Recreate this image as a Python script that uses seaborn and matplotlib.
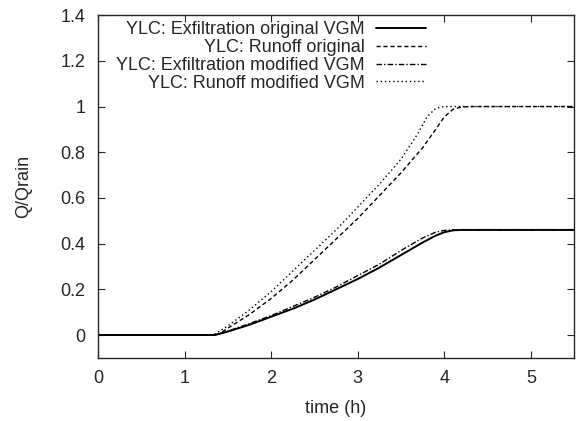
import pandas as pd
import seaborn as sns
import matplotlib.pyplot as plt
from matplotlib.ticker import FuncFormatter

# values
t_exf_orig = [0, 1.35, 1.5, 1.75, 2.0, 2.25, 2.5, 2.75, 3.0, 3.25, 3.5, 3.75, 3.9, 4.0, 4.1, 4.2, 5.5]
q_exf_orig = [0, 0, 0.015, 0.045, 0.08, 0.115, 0.155, 0.2, 0.245, 0.295, 0.35, 0.405, 0.435, 0.45, 0.458, 0.46, 0.46]

t_run_orig = [0, 1.35, 1.4, 1.5, 1.75, 2.0, 2.25, 2.5, 2.75, 3.0, 3.25, 3.5, 3.75, 3.9, 4.0, 4.1, 4.2, 4.3, 5.5]
q_run_orig = [0, 0, 0.005, 0.03, 0.09, 0.16, 0.24, 0.33, 0.42, 0.51, 0.61, 0.71, 0.82, 0.9, 0.955, 0.988, 0.998, 1.0, 1.0]

t_exf_mod = [0, 1.35, 1.5, 1.75, 2.0, 2.25, 2.5, 2.75, 3.0, 3.25, 3.5, 3.75, 3.9, 4.0, 4.1, 5.5]
q_exf_mod = [0, 0, 0.017, 0.05, 0.085, 0.125, 0.165, 0.21, 0.26, 0.31, 0.37, 0.425, 0.45, 0.458, 0.46, 0.46]

t_run_mod = [0, 1.33, 1.5, 1.75, 2.0, 2.25, 2.5, 2.75, 3.0, 3.25, 3.5, 3.7, 3.8, 3.9, 4.0, 5.5]
q_run_mod = [0, 0, 0.04, 0.11, 0.19, 0.28, 0.37, 0.46, 0.56, 0.66, 0.77, 0.885, 0.955, 0.992, 1.0, 1.0]

labels = ["YLC: Exfiltration original VGM", "YLC: Runoff original",
          "YLC: Exfiltration modified VGM", "YLC: Runoff modified VGM"]

sns.set_style("ticks")
plt.rcParams["font.family"] = ["Liberation Sans", "DejaVu Sans"]
plt.rcParams["font.size"] = 13

fig, ax = plt.subplots(figsize=(5.8, 4.21), dpi=100)

sns.lineplot(x=t_exf_orig, y=q_exf_orig, ax=ax, color="black", lw=1.4,
             linestyle="-", label=labels[0])
sns.lineplot(x=t_run_orig, y=q_run_orig, ax=ax, color="black", lw=1.0,
             linestyle=(0, (3, 2)), label=labels[1])
sns.lineplot(x=t_exf_mod, y=q_exf_mod, ax=ax, color="black", lw=1.0,
             linestyle=(0, (4, 1.5, 1, 1.5)), label=labels[2])
sns.lineplot(x=t_run_mod, y=q_run_mod, ax=ax, color="black", lw=1.0,
             linestyle=(0, (1, 2)), label=labels[3])

ax.set_xlim(0, 5.5)
ax.set_ylim(-0.1, 1.4)
ax.set_xticks([0, 1, 2, 3, 4, 5])
ax.set_yticks([0, 0.2, 0.4, 0.6, 0.8, 1.0, 1.2, 1.4])
ax.yaxis.set_major_formatter(FuncFormatter(lambda v, p: "%g" % round(v, 2)))
ax.tick_params(direction="in", top=True, right=True, length=5, width=0.8,
               labelsize=13, pad=9)
for s in ax.spines.values():
    s.set_visible(True)
    s.set_linewidth(1.0)

ax.set_xlabel("time (h)", fontsize=13, labelpad=9)
ax.set_ylabel("Q/Qrain", fontsize=13, labelpad=20)

leg = ax.legend(loc="upper right", frameon=False, markerfirst=False,
                handlelength=2.8, handletextpad=0.6, labelspacing=0.05,
                fontsize=13, borderaxespad=0, borderpad=0.1,
                bbox_to_anchor=(0.693, 0.988))

fig.subplots_adjust(left=0.169, right=0.99, top=0.964, bottom=0.15)
fig.savefig("out.png", dpi=100)
